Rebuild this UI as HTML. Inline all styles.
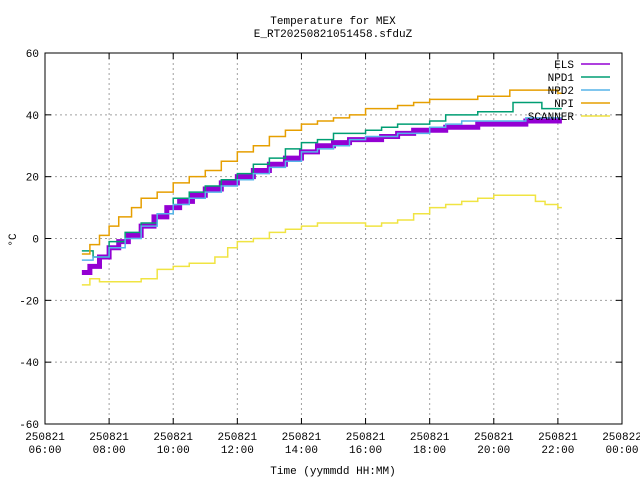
<!DOCTYPE html>
<html><head><meta charset="utf-8"><style>
body{margin:0;background:#fff}
svg text{font-family:"Liberation Mono","DejaVu Sans Mono",monospace;font-size:11px;fill:#000}
</style></head><body>
<svg width="640" height="480" id="c"></svg>
<script>
const xTicks=[6,8,10,12,14,16,18,20,22,24];
const xTickDate=["250821","250821","250821","250821","250821","250821","250821","250821","250821","250822"];
const xTickTime=["06:00","08:00","10:00","12:00","14:00","16:00","18:00","20:00","22:00","00:00"];
const yTicks=[-60,-40,-20,0,20,40,60];
const seriesNames=["ELS","NPD1","NPD2","NPI","SCANNER"];
const elsT=[7.15,7.4,7.7,8.0,8.3,8.6,9.0,9.4,9.8,10.2,10.6,11.0,11.5,12.0,12.5,13.0,13.5,14.0,14.5,15.0,15.5,16.0,16.5,17.0,17.5,18.0,18.5,19.0,19.5,20.0,20.5,21.0,21.5,22.0];
const elsV=[-11,-9,-6,-3,-1,1,4,7,10,12,14,16,18,20,22,24,26,28,30,31,32,32,33,34,35,35,36,36,37,37,37,38,38,38];
const npd1T=[7.15,7.5,8.0,8.5,9.0,9.5,10.0,10.5,11.0,11.5,12.0,12.5,13.0,13.5,14.0,14.5,15.0,16.0,16.5,17.0,18.0,18.5,19.0,19.5,20.0,20.6,21.0,21.5,22.0];
const npd1V=[-4,-6,-1,2,5,8,13,15,17,19,21,24,26,29,31,32,34,35,36,37,38,40,40,41,41,44,44,42,42];
const npd2T=[7.15,7.5,8.0,8.5,9.0,9.5,10.0,10.5,11.0,11.5,12.0,12.5,13.0,13.5,14.0,14.5,15.0,15.5,16.0,17.0,18.0,18.5,19.0,20.0,21.0,22.0];
const npd2V=[-7,-6,-3,0,4,8,11,13,15,17,19,21,23,25,28,29,30,32,33,34,36,37,38,38,39,39];
const npiT=[7.15,7.4,7.7,8.0,8.3,8.7,9.0,9.5,10.0,10.5,11.0,11.5,12.0,12.5,13.0,13.5,14.0,14.5,15.0,15.5,16.0,16.5,17.0,17.5,18.0,19.0,19.5,20.0,20.5,21.0,21.5,22.0];
const npiV=[-5,-2,1,4,7,10,13,15,18,20,22,25,28,30,33,35,37,38,39,40,42,42,43,44,45,45,46,46,48,48,48,47];
const scanT=[7.15,7.4,7.7,8.0,9.0,9.5,10.0,10.5,11.0,11.3,11.7,12.0,12.5,13.0,13.5,14.0,14.5,15.0,15.5,16.0,16.5,17.0,17.5,18.0,18.5,19.0,19.5,20.0,21.0,21.3,21.6,22.0];
const scanV=[-15,-13,-14,-14,-13,-10,-9,-8,-8,-6,-3,-1,0,2,3,4,5,5,5,4,5,6,8,10,11,12,13,14,14,12,11,10];
const series=[[elsT,elsV],[npd1T,npd1V],[npd2T,npd2V],[npiT,npiV],[scanT,scanV]];
const colors=["#9400d3","#009e73","#56b4e9","#e69f00","#f0e442"];
const widths=[5,1.5,1.5,1.5,1.5];
const L=45,R=622,T=53,B=424;
const X=h=>L+(h-6)/18*(R-L);
const Y=v=>B-(v+60)/120*(B-T);
const svg=document.getElementById('c');
const NS="http://www.w3.org/2000/svg";
function mk(tag,attrs,parent){const e=document.createElementNS(NS,tag);for(const k in attrs)e.setAttribute(k,attrs[k]);(parent||svg).appendChild(e);return e;}
const grid=mk('g',{});


xTicks.forEach((t,i)=>{
  const x=X(t);
  if(i>0&&i<xTicks.length-1){const g=mk('line',{x1:x,x2:x,y1:T,y2:B,stroke:'#a0a0a0','stroke-dasharray':'2,3'},grid);}
  const a=mk('text',{x:x,y:B+16,'text-anchor':'middle'});a.textContent=xTickDate[i];
  
  
  const b=mk('text',{x:x,y:B+29,'text-anchor':'middle'});b.textContent=xTickTime[i];
  
  
  mk('line',{x1:x,x2:x,y1:B,y2:B-6,stroke:'#000'});mk('line',{x1:x,x2:x,y1:T,y2:T+6,stroke:'#000'});
});
yTicks.forEach((t,i)=>{
  const y=Y(t);
  if(i>0&&i<yTicks.length-1){const g=mk('line',{x1:L,x2:R,y1:y,y2:y,stroke:'#a0a0a0','stroke-dasharray':'2,3'},grid);}
  const a=mk('text',{x:L-6,y:y+4,'text-anchor':'end'});a.textContent=t;
  
  
  mk('line',{x1:L,x2:L+6,y1:y,y2:y,stroke:'#000'});mk('line',{x1:R,x2:R-6,y1:y,y2:y,stroke:'#000'});
});
series.forEach((s,k)=>{
  const [ts,vs]=s;let d='';
  ts.forEach((t,i)=>{const x=X(t),y=Y(vs[i]);if(i===0)d+='M'+x+','+y;else d+='H'+x+'V'+y;});
  d+='H'+(X(ts[ts.length-1])+4);
  const p=mk('path',{d:d,fill:'none',stroke:colors[k],'stroke-width':widths[k]});
  
  
});
const border=mk('rect',{x:L,y:T,width:R-L,height:B-T,fill:'none',stroke:'#000'});


seriesNames.forEach((n,k)=>{
  const y=64+k*13;
  const t=mk('text',{x:574,y:y+4,'text-anchor':'end'});t.textContent=n;
  
  
  const l=mk('line',{x1:581,x2:610,y1:y,y2:y,stroke:colors[k],'stroke-width':1.5});
  
  
});
</script>
<svg width="640" height="480" style="position:absolute;left:0;top:0">
<text x="333" y="24" text-anchor="middle">Temperature for MEX</text>
<text x="333" y="37" text-anchor="middle">E_RT20250821051458.sfduZ</text>
<text x="333" y="474" text-anchor="middle">Time (yymmdd HH:MM)</text>
<text x="16" y="240" text-anchor="middle" transform="rotate(-90 16 240)">°C</text>
</svg>
</body></html>
